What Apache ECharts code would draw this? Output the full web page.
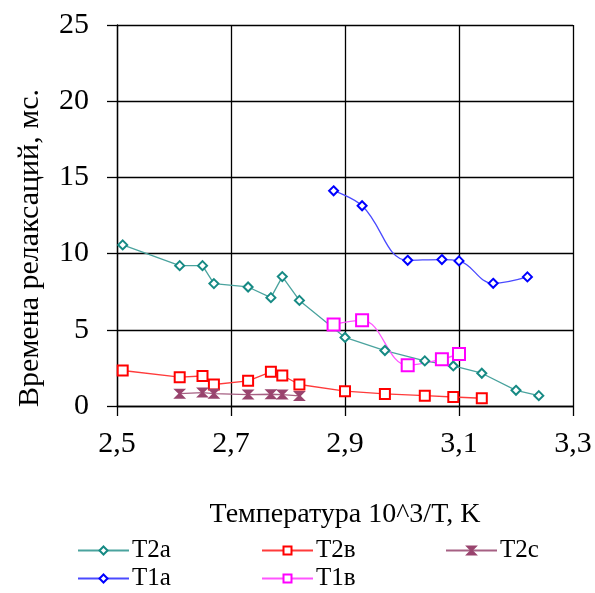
<!DOCTYPE html>
<html>
<head>
<meta charset="utf-8">
<script src="https://cdn.jsdelivr.net/npm/echarts@6/dist/echarts.min.js"></script>
<style>
  html, body { margin: 0; padding: 0; background: #fff; }
  #chart { width: 595px; height: 593px; }
</style>
</head>
<body>
<div id="chart"></div>
<script>
// данные
const xT2 = [2.51, 2.61, 2.65, 2.67, 2.73, 2.77, 2.79, 2.82, 2.90, 2.97, 3.04, 3.09, 3.14, 3.20, 3.24]
const T2a = [10.57, 9.21, 9.21, 8.03, 7.81, 7.11, 8.49, 6.93, 4.50, 3.64, 2.96, 2.63, 2.15, 1.03, 0.68]
const xT2b = [2.51, 2.61, 2.65, 2.67, 2.73, 2.77, 2.79, 2.82, 2.90, 2.97, 3.04, 3.09, 3.14]
const T2b = [2.33, 1.89, 1.97, 1.41, 1.65, 2.24, 2.0, 1.41, 0.97, 0.79, 0.68, 0.59, 0.51]
const xT2c = [2.61, 2.65, 2.67, 2.73, 2.77, 2.79, 2.82]
const T2c = [0.81, 0.88, 0.81, 0.75, 0.77, 0.75, 0.66]
const xT1 = [2.88, 2.93, 3.01, 3.07, 3.10, 3.16, 3.22]
const T1a = [14.12, 13.14, 9.56, 9.61, 9.52, 8.05, 8.47]
const xT1b = [2.88, 2.93, 3.01, 3.07, 3.10]
const T1b = [5.35, 5.62, 2.68, 3.07, 3.42]

const xTicks = { min: 2.5, max: 3.3, interval: 0.2 }
const yTicks = { min: 0, max: 25, interval: 5 }

const font = "'Liberation Serif', 'Times New Roman', serif"
const pairs = (xs, ys) => xs.map((x, i) => [x, ys[i]])
const hourglass = 'path://M0,0 L10,0 L5,5 L10,10 L0,10 L5,5 Z'

const chart = echarts.init(document.getElementById('chart'), null, { renderer: 'canvas' })

function mkSeries(name, data, color, lineColor, symbol, size, smooth) {
  return {
    name: name,
    type: 'line',
    data: data,
    smooth: smooth ? 0.4 : false,
    symbol: symbol,
    symbolSize: size,
    showAllSymbol: true,
    lineStyle: { color: lineColor, width: 1.3 },
    itemStyle: { color: symbol === hourglass ? color : '#fff', borderColor: color, borderWidth: 2 },
    emphasis: { disabled: true },
    z: 3
  }
}

function mkLegend(name, left, top) {
  return {
    data: [name],
    left: left,
    top: top,
    itemWidth: 51,
    itemHeight: 10,
    itemGap: 0,
    textStyle: { fontFamily: font, fontSize: 25, color: '#000', padding: [0, 0, 0, -2] }
  }
}

const option = {
  animation: false,
  backgroundColor: '#fff',
  grid: { left: 117, top: 25, width: 456, height: 381 },
  xAxis: {
    type: 'value',
    min: xTicks.min,
    max: xTicks.max,
    interval: xTicks.interval,
    name: 'Температура 10^3/T, K',
    nameLocation: 'middle',
    nameGap: 95,
    nameTextStyle: { fontFamily: font, fontSize: 28, color: '#000' },
    axisLine: { onZero: false, lineStyle: { color: '#000', width: 1.3 } },
    axisTick: { show: true, length: 10, lineStyle: { color: '#000', width: 1.3 } },
    axisLabel: {
      margin: 23,
      fontFamily: font, fontSize: 30, color: '#000',
      formatter: v => v.toFixed(1).replace('.', ',')
    },
    splitLine: { show: true, lineStyle: { color: '#000', width: 1.3 } }
  },
  yAxis: {
    type: 'value',
    min: yTicks.min,
    max: yTicks.max,
    interval: yTicks.interval,
    axisLine: { show: true, lineStyle: { color: '#000', width: 1.3 } },
    axisTick: { show: true, length: 10, lineStyle: { color: '#000', width: 1.3 } },
    axisLabel: { margin: 28, fontFamily: font, fontSize: 30, color: '#000' },
    splitLine: { show: true, lineStyle: { color: '#000', width: 1.3 } }
  },
  graphic: [{
    type: 'text',
    rotation: Math.PI / 2,
    x: 30,
    y: 248,
    style: {
      text: 'Времена релаксаций, мс.',
      font: "30px 'Liberation Serif', serif",
      fill: '#000',
      align: 'center',
      verticalAlign: 'middle'
    }
  }],
  legend: [
    mkLegend('T2a', 72, 533),
    mkLegend('T2в', 256, 533),
    mkLegend('T2c', 440, 533),
    mkLegend('T1a', 72, 561),
    mkLegend('T1в', 256, 561)
  ],
  series: [
    mkSeries('T2a', pairs(xT2, T2a), '#168a84', '#4aa39e', 'diamond', 9, false),
    mkSeries('T2в', pairs(xT2b, T2b), '#ff0000', '#ff3b3b', 'rect', 10, false),
    mkSeries('T2c', pairs(xT2c, T2c), '#99446e', '#a66083', hourglass, 8, false),
    mkSeries('T1a', pairs(xT1, T1a), '#0000ff', '#4a4aff', 'diamond', 9, true),
    mkSeries('T1в', pairs(xT1b, T1b), '#ff00ff', '#ff55ff', 'rect', 12, true)
  ]
}

chart.setOption(option)
</script>
</body>
</html>
